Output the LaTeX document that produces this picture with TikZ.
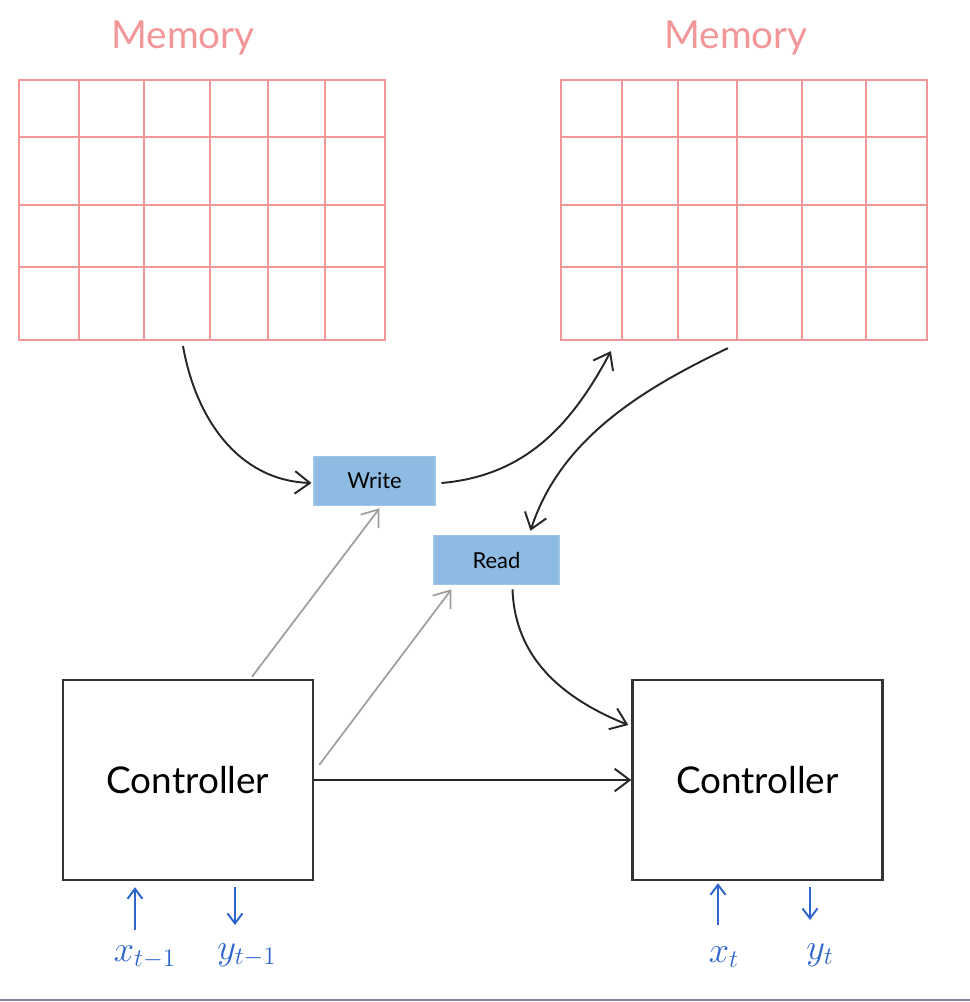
\documentclass[tikz,border=0pt]{standalone}
\usepackage{fontspec}
\setmainfont{Lato}
\usetikzlibrary{calc,arrows.meta}

\definecolor{mempink}{RGB}{242,150,152}
\definecolor{boxblue}{RGB}{141,187,226}
\definecolor{inkblue}{RGB}{45,100,205}

\begin{document}
\begin{tikzpicture}[x=0.02cm,y=-0.02cm,
  memgrid/.style={draw=mempink, line width=1.3pt, minimum width=7.32cm, minimum height=5.2cm, inner sep=0pt},
  memlabel/.style={text=mempink, font=\fontsize{22}{24}\selectfont},
  opbox/.style={fill=boxblue, draw=boxblue!85, line width=0.6pt, minimum height=0.99cm, font=\fontsize{12.5}{14}\selectfont},
  ctrl/.style={draw=black!80, line width=1.4pt, minimum width=5cm, minimum height=4cm, inner sep=0pt, font=\fontsize{21}{24}\selectfont},
  flow/.style={black!85, line width=1.1pt, -{Straight Barb[length=3mm,width=4.5mm]}},
  ctl/.style={gray!75, line width=1pt, -{Straight Barb[length=3mm,width=4.5mm]}},
  io/.style={inkblue, line width=1.1pt, -{Straight Barb[length=2mm,width=3mm]}},
  iolabel/.style={text=inkblue, font=\fontsize{22}{24}\selectfont}]

\useasboundingbox (0,0) rectangle (970,1002);

% memory at t-1 and t
\node[memlabel] (labA) at (183,38) {Memory};
\node[memlabel] (labB) at (736,38) {Memory};
\node[memgrid] (memA) at (202,210) {};
\node[memgrid] (memB) at (744,210) {};

\foreach \x in {79,144,210,268,325}
  \draw[mempink, line width=1.3pt] (\x,80) -- (\x,340);
\foreach \x in {622,678,737,802,866}
  \draw[mempink, line width=1.3pt] (\x,80) -- (\x,340);
\foreach \y in {137,205,267}{
  \draw[mempink, line width=1.3pt] (19,\y) -- (385,\y);
  \draw[mempink, line width=1.3pt] (561,\y) -- (927,\y);
}

% heads
\node[opbox, minimum width=2.42cm] (write) at (374.5,481) {Write};
\node[opbox, minimum width=2.5cm] (read) at (496.5,560) {Read};

% controllers
\node[ctrl] (ctrlA) at (188,780) {Controller};
\node[ctrl] (ctrlB) at (757.5,780) {Controller};

% memory traffic
\draw[flow] ($(memA.south)+(-19,5)$) to[out=-80,in=178] ($(write.west)+(-2,2)$);
\draw[flow] ($(write.east)+(6,2)$) to[out=5,in=-118] ($(memB.south west)+(51,10)$);
\draw[flow] ($(memB.south)+(-16,7)$) .. controls (640,390) and (560,440) .. ($(read.north)+(34,-4)$);
\draw[flow] ($(read.south)+(16,4)$) to[out=-88,in=158] ($(ctrlB.west)+(-3,-55)$);
\draw[flow] (ctrlA.east) -- (ctrlB.west);

% controller to heads
\draw[ctl] ($(ctrlA.north)+(64,-2)$) -- ($(write.south)+(5,2)$);
\draw[ctl] ($(ctrlA.east)+(5,-15)$) -- ($(read.south west)+(18,4)$);

% inputs and outputs
\node[iolabel] (xA) at (145,957) {$x_{t-1}$};
\node[iolabel] (yA) at (247,955) {$y_{t-1}$};
\node[iolabel] (xB) at (724,957) {$x_t$};
\node[iolabel] (yB) at (820,955) {$y_t$};

\coordinate (xAin) at (135,930);
\coordinate (yAout) at (235,925);
\coordinate (xBin) at (718,925);
\coordinate (yBout) at (810,920);
\draw[io] (xAin) -- ($(xAin |- ctrlA.south)+(0,6)$);
\draw[io] ($(yAout |- ctrlA.south)+(0,6)$) -- (yAout);
\draw[io] (xBin) -- ($(xBin |- ctrlB.south)+(0,2)$);
\draw[io] ($(yBout |- ctrlB.south)+(0,6)$) -- (yBout);

\draw[line width=1.2pt, color={rgb,255:red,140;green,125;blue,165}] (0,1000) -- (970,1000);

\end{tikzpicture}
\end{document}
